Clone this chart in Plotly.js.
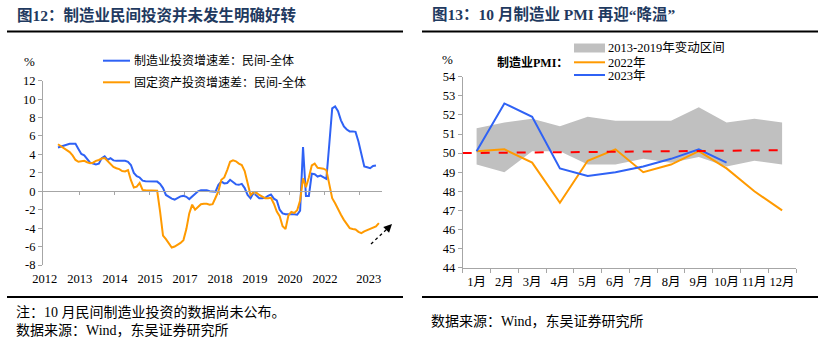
<!DOCTYPE html>
<html><head><meta charset="utf-8">
<script src="https://cdn.plot.ly/plotly-3.0.1.min.js"></script>
<style>html,body{margin:0;padding:0;background:#fff}#chart{width:831px;height:351px}</style>
</head><body><div id="chart"></div>
<script>
// ---------- Left chart data (monthly, difference private - total, %) ----------
const mfgDiff = [4.75,4.85,5.0,5.1,5.15,5.15,5.15,4.6,4.05,3.9, 3.5,3.1,3.0,2.9,3.0,3.6,3.8,3.4,3.6,3.35,
 3.3,3.3,3.3,3.3,3.2,2.85,2.0,1.65,1.5,1.15, 1.1,1.08,1.08,1.08,1.05,0.8,0.35,-0.4,-0.65,-0.8,
 -0.9,-0.7,-0.55,-0.5,-0.6,-0.85,-0.6,-0.3,0.0,0.1, 0.1,0.1,0.0,-0.05,-0.05,0.7,1.05,0.85,0.9,1.25,
 0.95,0.75,0.7,0.8,0.35,-0.4,-0.75,-0.2,-0.45,-0.75, -0.75,-0.7,-0.5,-0.35,-0.8,-1.0,-2.0,-2.4,-2.5,-2.5,
 -2.45,-2.5,-2.55,-2.1,4.8,-0.5,-0.5,1.9,1.85,1.6, 1.7,1.5,1.35,5.1,9.0,9.2,8.7,7.7,7.05,6.7,
 6.5,6.5,6.45,5.4,4.0,2.7,2.6,2.5,2.75,2.8];
const faiDiff = [5.1,4.9,4.7,4.5,4.25,3.9,3.4,3.2,3.25,3.3, 3.15,3.05,3.1,3.3,3.4,3.55,3.6,3.3,3.0,2.65,
 2.5,2.4,2.2,2.15,2.3,1.2,0.4,0.5,0.9,0.15, 0.1,0.1,0.1,0.1,0.05,-2.2,-4.8,-5.2,-5.7,-6.1,
 -6.0,-5.8,-5.6,-5.3,-4.1,-2.4,-1.45,-2.0,-1.7,-1.4, -1.35,-1.35,-1.45,-1.4,-0.7,0.0,1.25,1.5,2.3,3.2,
 3.35,3.25,3.0,2.85,2.2,1.0,-0.4,-0.1,-0.15,-0.4, -0.6,-0.75,-0.75,-0.7,-1.35,-2.2,-2.7,-3.8,-4.1,-2.6,
 -2.25,-2.35,-2.05,-1.0,1.4,0.45,1.5,2.8,3.0,2.55, 2.5,2.45,2.3,0.6,-0.75,-1.3,-2.0,-2.55,-3.1,-3.6,
 -4.0,-4.1,-4.15,-4.4,-4.55,-4.35,-4.2,-4.05,-3.9,-3.8, -3.45];
const yearLabels = ['2012','2013','2014','2015','2017','2018','2019','2020','2022','2023'];
const yearLabelPos = [-4.5,7.5,19.5,31.5,43.5,55.5,67.5,79.5,91.5,106.5];
const yearTickPos = [7.5,19.5,31.5,43.5,55.5,67.5,79.5,91.5,103.5];
const leftYTicks = [-8,-6,-4,-2,0,2,4,6,8,10,12];
const leftSeriesNames = ['制造业投资增速差：民间-全体','固定资产投资增速差：民间-全体'];

// ---------- Right chart data (manufacturing PMI) ----------
const months = ['1月','2月','3月','4月','5月','6月','7月','8月','9月','10月','11月','12月'];
const pmi2022 = [50.1,50.2,49.5,47.4,49.6,50.2,49.0,49.4,50.1,49.2,48.0,47.0];
const pmi2023 = [50.1,52.6,51.9,49.2,48.8,49.0,49.3,49.7,50.2,49.5];
const bandHigh = [51.3,51.6,51.8,51.4,51.9,51.7,51.7,51.7,52.4,51.6,51.8,51.6];
const bandLow  = [49.4,49.0,50.1,50.1,49.4,49.4,49.7,49.5,49.8,49.3,49.6,49.4];
const pmiLine = [50.0,50.15];
const rightSeriesNames = ['2013-2019年变动区间','2022年','2023年'];

// ---------- styling / layout helpers ----------
const W = 831, H = 351;
const px = v => v / W, py = v => (H - v) / H;
const BLUE = '#2F62F5', ORANGE = '#FF9A00', GRAY = '#A6A6A6', BAND = '#C0C0C0';
const FONT = '"Liberation Serif", "Noto Sans CJK SC", serif';
const TITLE_C = '#1F3A60';
const idx = arr => arr.map((_, i) => i);

const lyDom = [py(265), py(80.7)];
const lyRange = [-8, 12];
const zeroPos = lyDom[0] + (0 - lyRange[0]) / (lyRange[1] - lyRange[0]) * (lyDom[1] - lyDom[0]);
const lxRange = [-5.14, 110.9];

const traces = [
  {x: idx(mfgDiff), y: mfgDiff, name: leftSeriesNames[0], type: 'scatter', mode: 'lines',
   line: {color: BLUE, width: 2}, xaxis: 'x', yaxis: 'y', showlegend: false},
  {x: idx(faiDiff), y: faiDiff, name: leftSeriesNames[1], type: 'scatter', mode: 'lines',
   line: {color: ORANGE, width: 2}, xaxis: 'x', yaxis: 'y', showlegend: false},
  {x: [], y: [], type: 'scatter', mode: 'lines', xaxis: 'x3', yaxis: 'y', showlegend: false, hoverinfo: 'skip'},
  {x: months, y: bandLow, type: 'scatter', mode: 'lines', line: {width: 0, color: BAND},
   xaxis: 'x2', yaxis: 'y2', showlegend: false, hoverinfo: 'skip'},
  {x: months, y: bandHigh, name: rightSeriesNames[0], type: 'scatter', mode: 'lines', line: {width: 0, color: BAND},
   fill: 'tonexty', fillcolor: BAND, xaxis: 'x2', yaxis: 'y2', showlegend: false},
  {x: months.slice(0, pmi2022.length), y: pmi2022, name: rightSeriesNames[1], type: 'scatter', mode: 'lines',
   line: {color: ORANGE, width: 2}, xaxis: 'x2', yaxis: 'y2', showlegend: false},
  {x: months.slice(0, pmi2023.length), y: pmi2023, name: rightSeriesNames[2], type: 'scatter', mode: 'lines',
   line: {color: BLUE, width: 2}, xaxis: 'x2', yaxis: 'y2', showlegend: false}
];

const tickFont = {family: FONT, size: 12.5, color: '#000'};

const ann = (x, y, text, opt = {}) => Object.assign({
  xref: 'paper', yref: 'paper', x: px(x), y: py(y), text: text, showarrow: false,
  xanchor: 'left', yanchor: 'middle', font: {family: FONT, size: 12, color: '#000'}
}, opt);

const annotations = [
  ann(15, 15, '<b>图12：制造业民间投资并未发生明确好转</b>', {font: {family: FONT, size: 15.5, color: TITLE_C}}),
  ann(430, 15, '<b>图13：10 月制造业 PMI 再迎“降温”</b>', {font: {family: FONT, size: 15.5, color: TITLE_C}}),
  ann(29, 61, '%', {xanchor: 'center', font: {family: FONT, size: 13, color: '#000'}}),
  ann(447, 59.5, '%', {xanchor: 'center', font: {family: FONT, size: 13, color: '#000'}}),
  ann(132, 60.7, leftSeriesNames[0]),
  ann(132, 82.3, leftSeriesNames[1]),
  ann(606, 47.7, rightSeriesNames[0], {font: {family: FONT, size: 12.5, color: '#000'}}),
  ann(606, 62.5, rightSeriesNames[1], {font: {family: FONT, size: 12.5, color: '#000'}}),
  ann(606, 75.5, rightSeriesNames[2], {font: {family: FONT, size: 12.5, color: '#000'}}),
  ann(495, 62.7, '<b>制造业PMI：</b>', {font: {family: FONT, size: 12, color: '#000'}}),
  ann(14, 312, '注：10 月民间制造业投资的数据尚未公布。', {font: {family: FONT, size: 14, color: '#000'}}),
  ann(14, 330, '数据来源：Wind，东吴证券研究所', {font: {family: FONT, size: 14, color: '#000'}}),
  ann(429, 321, '数据来源：Wind，东吴证券研究所', {font: {family: FONT, size: 14, color: '#000'}}),
  {xref: 'paper', yref: 'paper', x: px(392), y: py(224), ax: -7, ay: 7, text: '', showarrow: true,
   arrowhead: 2, arrowsize: 1.1, arrowwidth: 1.5, arrowcolor: '#000'}
];

const hline = (x0, x1, y) => ({type: 'line', xref: 'paper', yref: 'paper', x0: px(x0), x1: px(x1),
  y0: py(y), y1: py(y), line: {color: '#000', width: 2}});
const shapes = [
  hline(7, 403, 31.5), hline(422, 818, 31.5), hline(7, 403, 297), hline(422, 818, 297),
  {type: 'line', xref: 'paper', yref: 'paper', x0: px(103), x1: px(130), y0: py(60.7), y1: py(60.7), line: {color: BLUE, width: 2}},
  {type: 'line', xref: 'paper', yref: 'paper', x0: px(103), x1: px(130), y0: py(82.3), y1: py(82.3), line: {color: ORANGE, width: 2}},
  {type: 'rect', xref: 'paper', yref: 'paper', x0: px(574), x1: px(605), y0: py(52.5), y1: py(43.5), line: {width: 0}, fillcolor: BAND},
  {type: 'line', xref: 'paper', yref: 'paper', x0: px(574), x1: px(605), y0: py(62.3), y1: py(62.3), line: {color: ORANGE, width: 2}},
  {type: 'line', xref: 'paper', yref: 'paper', x0: px(574), x1: px(605), y0: py(75), y1: py(75), line: {color: BLUE, width: 2}},
  {type: 'line', xref: 'x2', yref: 'y2', x0: -0.5, x1: 11, y0: pmiLine[0], y1: pmiLine[1], layer: 'above',
   line: {color: '#FF0000', width: 2, dash: 'dash'}},
  {type: 'line', xref: 'paper', yref: 'paper', x0: px(371), x1: px(387), y0: py(244), y1: py(229),
   line: {color: '#000', width: 1.3, dash: 'dot'}}
];

const layout = {
  width: W, height: H, margin: {l: 0, r: 0, t: 0, b: 0},
  paper_bgcolor: '#fff', plot_bgcolor: 'rgba(0,0,0,0)', showlegend: false,
  font: {family: FONT, size: 12, color: '#000'},
  xaxis: {domain: [px(43), px(381.5)], range: lxRange, anchor: 'y', tickmode: 'array',
    tickvals: yearLabelPos, ticktext: yearLabels, ticks: '', showline: false, showgrid: false,
    zeroline: false, tickfont: tickFont, tickangle: 0, ticklabelstandoff: 4, fixedrange: true},
  xaxis3: {overlaying: 'x', anchor: 'free', position: zeroPos, range: lxRange, tickmode: 'array',
    tickvals: yearTickPos, ticks: 'outside', ticklen: 3, tickcolor: GRAY, showline: true, linecolor: GRAY,
    linewidth: 1, showticklabels: false, showgrid: false, zeroline: false, fixedrange: true},
  yaxis: {domain: lyDom, range: lyRange, anchor: 'x', tickmode: 'array', tickvals: leftYTicks,
    ticktext: leftYTicks.map(v => String(v)), ticks: 'outside', ticklen: 4, tickcolor: GRAY,
    showline: true, linecolor: GRAY, linewidth: 1, showgrid: false, zeroline: false, tickfont: tickFont, fixedrange: true},
  xaxis2: {domain: [px(462.7), px(796)], anchor: 'y2', type: 'category', categoryorder: 'array',
    categoryarray: months, range: [-0.5, 11.5], tickson: 'boundaries', ticks: 'outside', ticklen: 4,
    tickcolor: GRAY, showline: true, linecolor: GRAY, linewidth: 1, showgrid: false, zeroline: false,
    tickfont: tickFont, tickangle: 0, ticklabelstandoff: 2, fixedrange: true},
  yaxis2: {domain: [py(267.7), py(76.7)], anchor: 'x2', range: [44, 54], tick0: 44, dtick: 1,
    ticks: 'outside', ticklen: 4, tickcolor: GRAY, showline: true, linecolor: GRAY, linewidth: 1,
    showgrid: false, zeroline: false, tickfont: tickFont, fixedrange: true},
  annotations: annotations, shapes: shapes
};

Plotly.newPlot('chart', traces, layout, {staticPlot: true, displayModeBar: false});
</script></body></html>
